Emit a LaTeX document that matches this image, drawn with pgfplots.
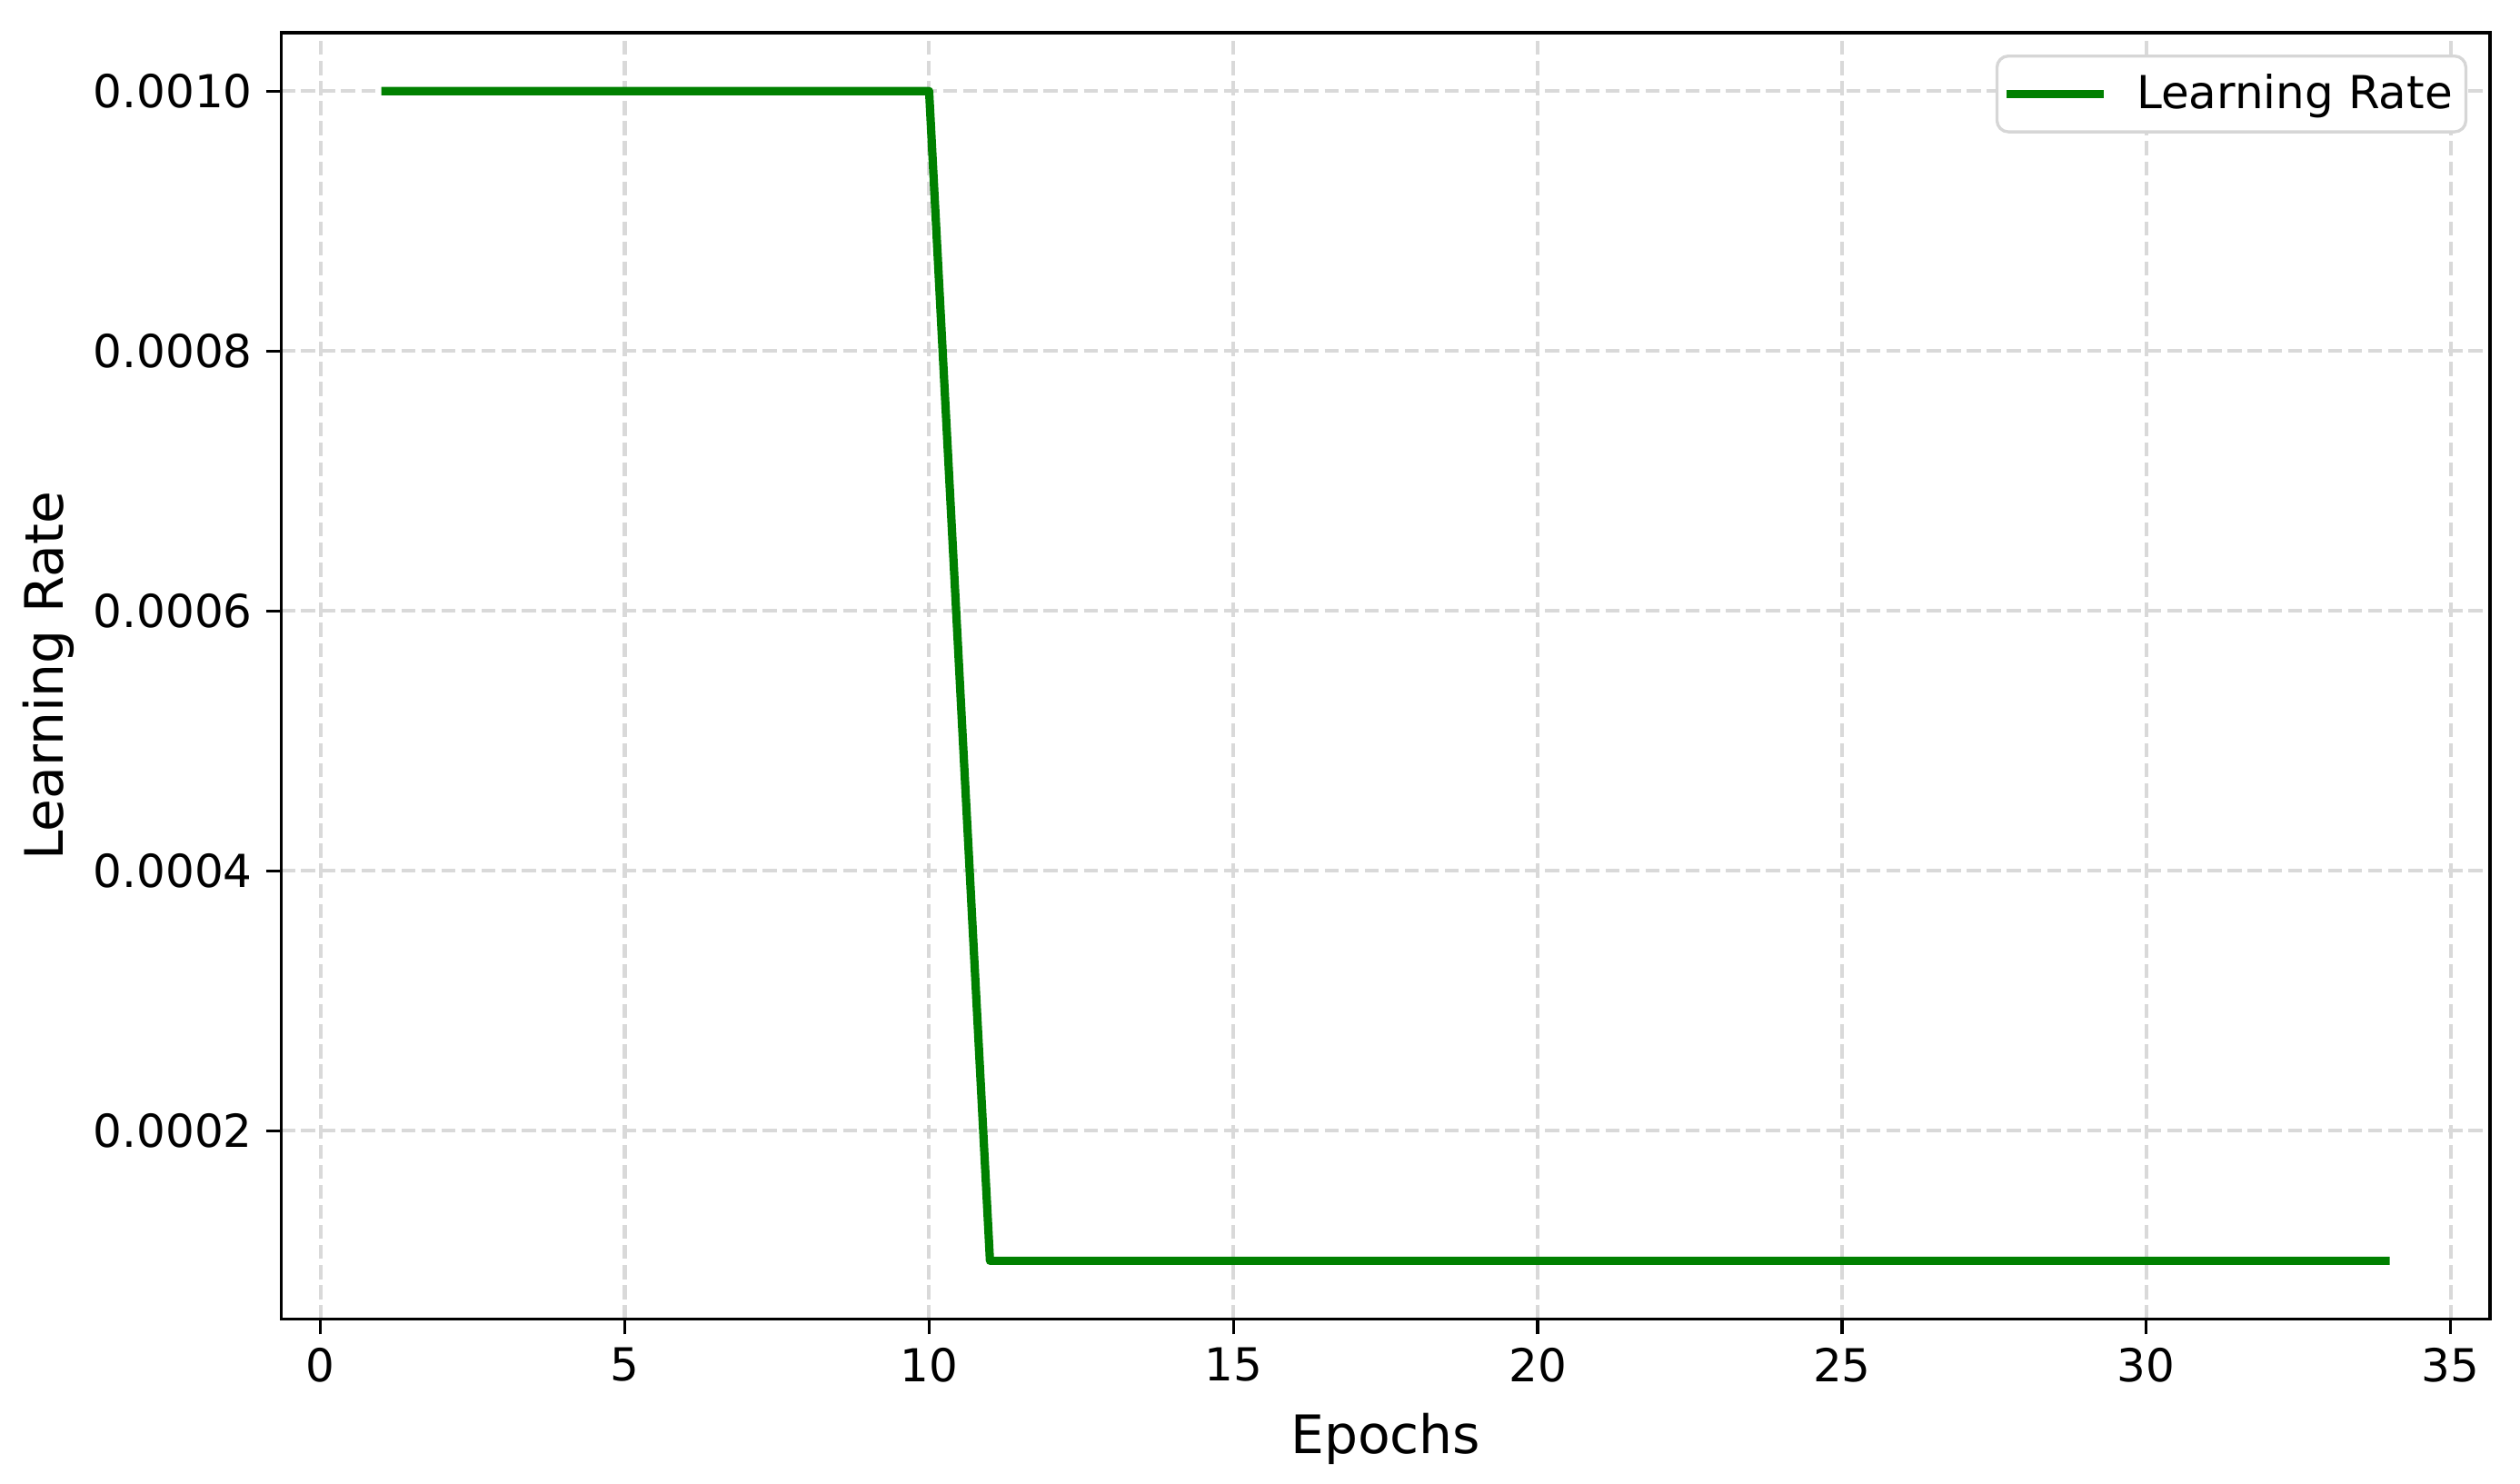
\documentclass[border=0pt]{standalone}
\usepackage{fontspec}
\setmainfont{DejaVu Sans}
\usepackage{pgfplots}
\pgfplotsset{compat=1.18}
\usetikzlibrary{calc}

\definecolor{lrgreen}{HTML}{008000}
\definecolor{gridgray}{HTML}{D9D9D9}
\definecolor{legframe}{HTML}{D6D6D6}

\begin{document}
\begin{tikzpicture}
\begin{axis}[
    name=ax,
    scale only axis,
    width=583.4pt,
    height=339.8pt,
    xmin=-0.65, xmax=35.65,
    ymin=0.000055, ymax=0.001045,
    xtick={0,5,...,35},
    ytick={0.0002,0.0004,0.0006,0.0008,0.0010},
    scaled y ticks=false,
    yticklabel style={/pgf/number format/.cd, fixed, fixed zerofill, precision=4},
    /pgf/number format/assume math mode=true,
    tick label style={font=\fontsize{12}{14}\selectfont},
    tick align=outside,
    major tick length=4pt,
    tick style={black, line width=0.8pt},
    xtick pos=bottom, ytick pos=left,
    axis line style={line width=0.8pt},
    grid=major,
    major grid style={gridgray, line width=1pt, dash pattern=on 3.7pt off 1.6pt},
    xlabel={Epochs},
    ylabel={Learning Rate},
    label style={font=\fontsize{14}{17}\selectfont},
    xlabel style={at={(axis description cs:0.5,0)}, anchor=base, yshift=-35.5pt},
    ylabel style={at={(axis description cs:0,0.5)}, anchor=base, yshift=57.4pt},
    legend style={at={(rel axis cs:1,1)}, anchor=north east, xshift=-6pt, yshift=-5.8pt,
        draw=legframe, line width=0.8pt, rounded corners=3pt,
        font=\fontsize{12}{14}\selectfont, inner xsep=0pt, inner ysep=3.2pt,
        column sep=0pt, nodes={inner xsep=0pt, inner ysep=1.5pt}},
    legend image code/.code={
        \draw[#1, line width=2.2pt] (2.6pt,0pt) -- (28.3pt,0pt);
        \path[draw=none] (0pt,0pt) -- (36.9pt,0pt);},
]
\addplot[lrgreen, line width=2.2pt, line join=round] coordinates {
(1,0.001) (2,0.001) (3,0.001) (4,0.001) (5,0.001) (6,0.001) (7,0.001) (8,0.001) (9,0.001) (10,0.001)
(11,0.0001) (12,0.0001) (13,0.0001) (14,0.0001) (15,0.0001) (16,0.0001) (17,0.0001) (18,0.0001)
(19,0.0001) (20,0.0001) (21,0.0001) (22,0.0001) (23,0.0001) (24,0.0001) (25,0.0001) (26,0.0001)
(27,0.0001) (28,0.0001) (29,0.0001) (30,0.0001) (31,0.0001) (32,0.0001) (33,0.0001) (34,0.0001)
};
\addlegendentry{Learning Rate\rule{3.5pt}{0pt}}
\end{axis}
\pgfresetboundingbox
\path[use as bounding box] ($(ax.south west)+(-74.2pt,-43.4pt)$) rectangle ($(ax.north east)+(7.9pt,8.6pt)$);
\end{tikzpicture}
\end{document}
